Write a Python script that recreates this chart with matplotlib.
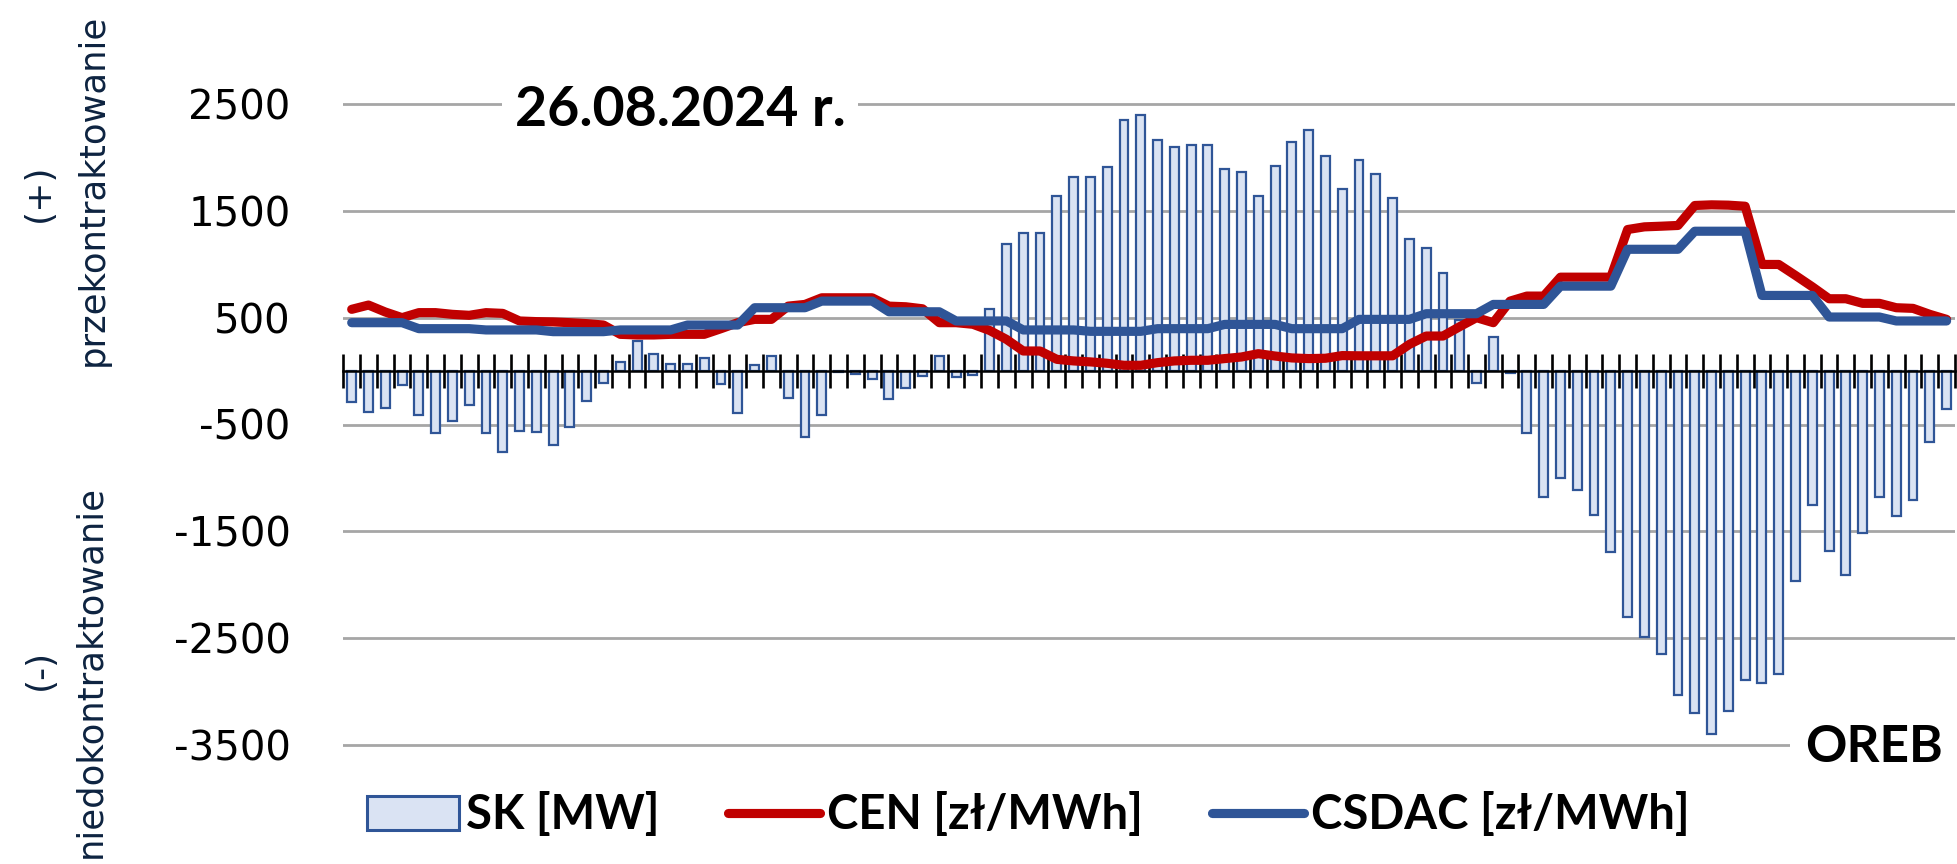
import matplotlib
matplotlib.use('Agg')
import matplotlib.pyplot as plt
from matplotlib.patches import Patch
from matplotlib.lines import Line2D
import numpy as np

# ---- data (96 quarter-hours) ----
quarters = list(range(1, 97))

sk = [-285, -382, -341, -129, -413, -578, -466, -313,
      -575, -753, -562, -568, -690, -528, -279, -107,
      88, 278, 157, 64, 64, 123, -117, -388,
      54, 145, -251, -615, -413, -10, -30, -70,
      -264, -154, -46, 145, -52, -33, 581, 1185,
      1294, 1294, 1643, 1814, 1814, 1914, 2353, 2397,
      2166, 2095, 2120, 2120, 1892, 1864, 1637, 1923,
      2141, 2253, 2010, 1700, 1980, 1843, 1618, 1238,
      1151, 920, 480, -114, 316, -20, -583, -1174,
      -998, -1117, -1348, -1697, -2298, -2491, -2647, -3036,
      -3201, -3394, -3186, -2887, -2921, -2831, -1961, -1254,
      -1684, -1905, -1516, -1176, -1354, -1202, -663, -351]

cen = [578, 618, 553, 500, 547, 547, 531, 522,
       547, 540, 469, 463, 460, 453, 444, 431,
       344, 338, 338, 344, 344, 344, 397, 453,
       484, 484, 608, 624, 686, 686, 686, 686,
       608, 602, 583, 453, 453, 438, 380, 297,
       188, 188, 110, 95, 86, 73, 54, 54,
       79, 95, 101, 101, 117, 132, 163, 141,
       123, 117, 120, 145, 143, 143, 143, 250,
       328, 328, 416, 500, 453, 655, 702, 702,
       879, 879, 879, 879, 1325, 1350, 1356, 1363,
       1550, 1556, 1553, 1543, 998, 998, 895, 789,
       677, 677, 634, 634, 593, 587, 531, 484]

csdac = [453, 453, 453, 453, 397, 397, 397, 397,
         385, 385, 385, 385, 369, 369, 369, 369,
         385, 385, 385, 385, 431, 431, 431, 431,
         593, 593, 593, 593, 655, 655, 655, 655,
         555, 555, 555, 555, 469, 469, 469, 469,
         385, 385, 385, 385, 372, 372, 372, 372,
         397, 397, 397, 397, 437, 437, 437, 437,
         397, 397, 397, 397, 484, 484, 484, 484,
         537, 537, 537, 537, 624, 624, 624, 624,
         795, 795, 795, 795, 1140, 1140, 1140, 1140,
         1309, 1309, 1309, 1309, 708, 708, 708, 708,
         506, 506, 506, 506, 469, 469, 469, 469]

yticks = [2500, 1500, 500, -500, -1500, -2500, -3500]
ytick_labels = ['2500', '1500', '500', '-500', '-1500', '-2500', '-3500']
legend_labels = ['SK [MW]', 'CEN [zł/MWh]', 'CSDAC [zł/MWh]']
title_text = '26.08.2024 r.'

# ---- styling ----
BAR_FACE = '#DAE3F3'
BAR_EDGE = '#2F5597'
RED = '#C00000'
BLUE = '#2F5597'
NAVY = '#0D2340'
GRID = '#A6A6A6'
LINE_W = 6.6

W, H = 1957, 864
fig = plt.figure(figsize=(W / 100, H / 100), dpi=100)
ax = fig.add_axes([343.3 / W, 1 - 755.7 / H, (1955 - 343.3) / W, (755.7 - 93.3) / H])

x = np.arange(len(quarters))
ax.bar(x, sk, width=0.53, color=BAR_FACE, edgecolor=BAR_EDGE, linewidth=1.6, zorder=2)
ax.plot(x, cen, color=RED, lw=LINE_W, solid_capstyle='round', solid_joinstyle='round', zorder=3)
ax.plot(x, csdac, color=BLUE, lw=LINE_W, solid_capstyle='round', solid_joinstyle='round', zorder=4)

ax.set_xlim(-0.5, 95.5)
ax.set_ylim(-3600, 2600)
ax.set_yticks(yticks)
ax.set_yticklabels(ytick_labels, fontsize=29, family='DejaVu Sans')
ax.grid(axis='y', color=GRID, lw=2.0)
ax.set_axisbelow(True)
for s in ['top', 'right', 'left']:
    ax.spines[s].set_visible(False)
ax.spines['bottom'].set_position(('data', 0))
ax.spines['bottom'].set_linewidth(1.8)
ax.spines['bottom'].set_zorder(2.5)
ax.set_xticks(np.arange(-0.5, 96, 1))
ax.tick_params(axis='x', direction='inout', length=23.8, width=1.9, color='black',
               labelbottom=False)
ax.tick_params(axis='y', length=0, pad=38)

# title and OREB label
fig.text(680 / W, 1 - 110 / H, title_text, fontsize=40, fontweight='bold', family='Lato',
         ha='center', va='center', zorder=5,
         bbox=dict(facecolor='white', edgecolor='none', pad=9))
fig.text(1874 / W, 1 - 747 / H, 'OREB', fontsize=37, fontweight='bold', family='Lato',
         ha='center', va='center', zorder=5,
         bbox=dict(facecolor='white', edgecolor='none', pad=11))

# y-axis side labels
fig.text(39 / W, 1 - 193 / H, '(+)', rotation=90, fontsize=26, color=NAVY,
         ha='center', va='center')
fig.text(93 / W, 1 - 190 / H, 'przekontraktowanie', rotation=90, fontsize=25.5, color=NAVY,
         ha='center', va='center')
fig.text(40 / W, 1 - 669 / H, '(-)', rotation=90, fontsize=26, color=NAVY,
         ha='center', va='center')
fig.text(90 / W, 1 - 672 / H, 'niedokontraktowanie', rotation=90, fontsize=25.5, color=NAVY,
         ha='center', va='center')

# legend
handles = [Patch(facecolor=BAR_FACE, edgecolor=BAR_EDGE, linewidth=2.2),
           Line2D([], [], color=RED, lw=LINE_W, solid_capstyle='round'),
           Line2D([], [], color=BLUE, lw=LINE_W, solid_capstyle='round')]
fig.legend(handles=handles, labels=legend_labels, loc='center left',
           bbox_to_anchor=(367 / W, 1 - 815 / H), ncol=3, frameon=False,
           prop=dict(family='Lato', weight='bold', size=34),
           handlelength=1.95, handleheight=0.72, handletextpad=0.15,
           columnspacing=1.45, borderpad=0, borderaxespad=0)

fig.savefig('out.png', dpi=100)
